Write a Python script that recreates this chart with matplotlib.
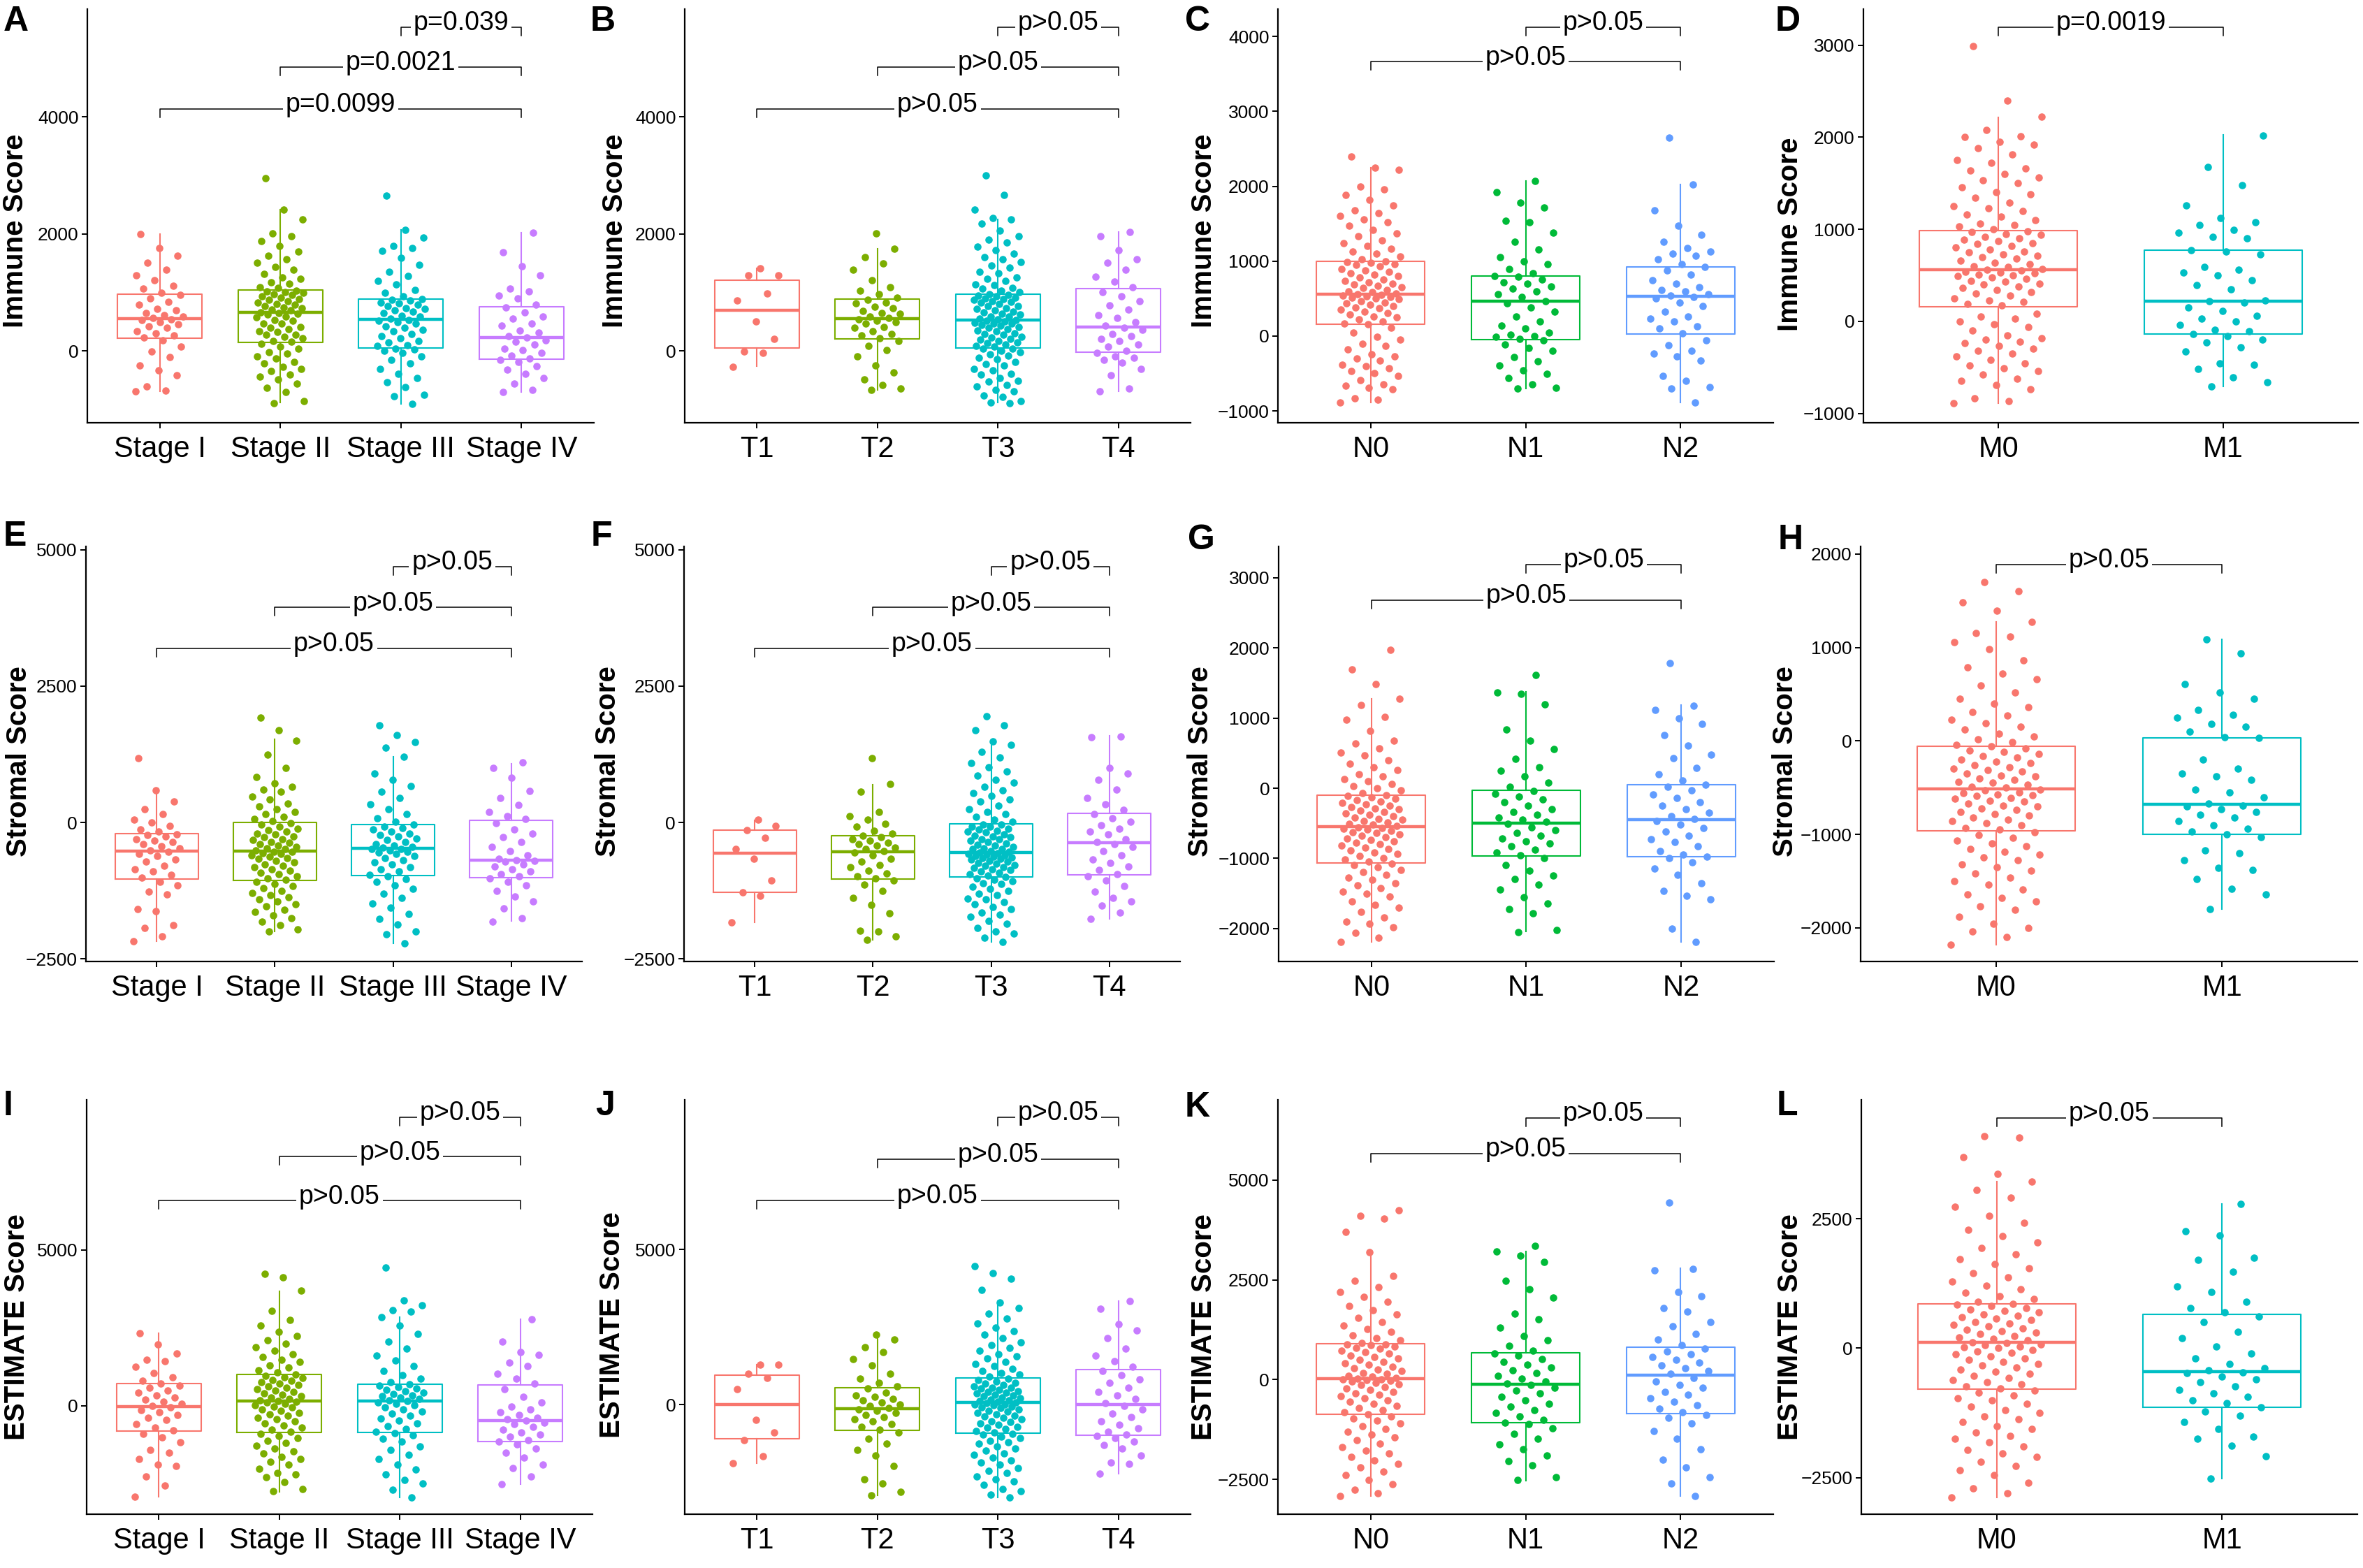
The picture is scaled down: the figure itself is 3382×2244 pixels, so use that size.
import matplotlib
matplotlib.use('Agg')
import matplotlib.pyplot as plt
import numpy as np

plt.rcParams['font.family'] = ['Liberation Sans', 'DejaVu Sans']

# ---------------- categories ----------------
stage_cats = ['Stage I', 'Stage II', 'Stage III', 'Stage IV']
t_cats = ['T1', 'T2', 'T3', 'T4']
n_cats = ['N0', 'N1', 'N2']
m_cats = ['M0', 'M1']

# ---------------- Immune score: points ----------------
imm_stage1 = [-690,-680,-610,-420,-330,-250,-110,-10,70,180,230,260,300,330,390,420,450,490,520,540,
              560,590,610,650,690,720,790,840,900,960,990,1060,1110,1210,1290,1390,1500,1620,1750,2000]
imm_stage2 = [-900,-860,-700,-630,-560,-490,-440,-410,-350,-310,-270,-220,-190,-130,-100,-50,-20,30,70,120,
              160,170,220,240,270,280,320,330,370,400,410,460,470,510,520,570,580,620,630,640,
              660,690,700,730,740,760,790,800,830,850,870,880,910,930,950,970,990,1000,1020,1030,
              1070,1090,1150,1170,1230,1260,1310,1390,1430,1510,1560,1630,1700,1790,1880,1960,2010,2250,2410,2950]
imm_stage3 = [-910,-780,-750,-620,-540,-470,-390,-310,-220,-160,-90,-40,0,20,40,
              80,100,140,170,220,250,290,330,360,400,420,470,490,510,530,
              550,590,600,640,670,690,720,730,770,790,810,830,860,870,880,
              930,990,1040,1130,1190,1280,1350,1470,1590,1710,1760,1790,1930,2070,2650]
imm_stage4 = [-710,-670,-560,-470,-390,-320,-260,-190,-160,-130,-80,-30,10,40,110,160,180,230,
              250,310,350,430,470,550,580,660,740,790,890,940,1010,1060,1290,1450,1680,2020]
imm_T1 = [-270,-40,-10,200,500,860,980,1290,1290,1410]
imm_T2 = [-670,-650,-590,-490,-370,-250,-90,10,80,170,210,260,290,340,390,410,470,490,510,540,
          560,580,630,650,680,730,750,810,830,870,910,970,1030,1090,1210,1380,1490,1600,1740,2010]
imm_T3 = [-900,-880,-860,-790,-770,-690,-670,-610,-590,-530,-510,-470,-410,-390,-330,-310,-250,-230,-190,-140,
          -120,-80,-60,-20,0,30,40,70,80,110,130,140,170,190,200,230,240,270,290,300,330,350,370,390,410,
          430,440,460,470,480,500,510,520,540,550,580,590,620,630,660,670,690,720,730,760,770,800,820,840,
          850,870,880,900,910,930,940,950,970,1000,1030,1060,1080,1120,1140,1200,1230,1260,1320,1350,1420,
          1460,1520,1570,1600,1660,1720,1780,1850,1900,1960,2050,2170,2240,2270,2410,2660,3000]
imm_T4 = [-690,-650,-420,-310,-200,-160,-120,-90,-40,0,70,110,170,200,250,290,360,400,
          430,490,560,610,700,780,850,930,1000,1090,1180,1270,1390,1500,1570,1720,1960,2030]
imm_N0 = [-890,-850,-830,-710,-690,-660,-640,-590,-530,-490,-470,-430,-400,-380,-330,-300,-270,-240,-180,-130,
          -100,-50,-10,50,110,160,170,200,220,250,260,290,310,330,350,370,380,400,420,440,450,470,490,500,
          510,520,530,540,550,560,570,590,600,620,640,650,670,690,700,720,740,760,780,800,820,840,860,880,
          900,930,950,960,980,990,1000,1030,1060,1100,1130,1170,1200,1240,1280,1330,1370,1420,1470,1520,
          1560,1600,1640,1680,1740,1820,1880,1960,2000,2220,2250,2400]
imm_N1 = [-700,-690,-640,-560,-500,-460,-390,-340,-280,-200,-160,-110,-60,-40,-10,0,20,50,100,140,200,260,
          330,380,440,470,520,560,600,630,660,700,720,760,790,800,840,900,960,1000,1050,1160,1260,1380,
          1520,1540,1720,1780,1920,2070]
imm_N2 = [-890,-700,-680,-600,-530,-330,-270,-230,-200,-120,-60,40,100,130,200,230,260,330,400,450,500,520,
          540,560,600,620,650,700,750,820,880,920,960,1030,1070,1100,1130,1180,1260,1350,1470,1680,2020,2650]
imm_M0 = [-890,-870,-840,-740,-690,-650,-620,-580,-540,-510,-480,-460,-420,-380,-350,-320,-300,-270,-240,-220,
          -200,-180,-150,-100,-60,-30,0,30,50,80,170,190,210,230,250,280,300,320,340,360,380,400,410,430,440,
          460,480,490,500,510,520,530,540,550,560,570,590,600,620,640,660,680,700,710,730,750,760,780,800,
          820,840,850,870,890,900,920,940,950,970,980,1000,1030,1050,1060,1100,1140,1160,1200,1230,1250,1290,
          1340,1380,1400,1460,1500,1530,1560,1600,1640,1660,1720,1750,1810,1880,1920,1950,2000,2010,2080,
          2220,2400,2990]
imm_M1 = [-710,-660,-610,-520,-470,-460,-330,-280,-230,-200,-160,-140,-110,-90,-40,0,30,60,110,150,200,
          220,230,350,390,450,500,530,560,590,730,760,770,900,920,960,990,1050,1080,1120,1260,1480,1680,2020]

# ---------------- Stromal score: points ----------------
str_stage1 = [-2180,-2080,-1930,-1880,-1620,-1580,-1320,-1260,-1150,-1080,-1010,-960,-900,-850,-790,-720,
              -680,-610,-570,-540,-510,-470,-430,-400,-360,-330,-300,-260,-230,-210,-170,-120,-60,0,50,150,
              250,380,590,1180]
str_stage2 = [-2000,-1960,-1880,-1820,-1750,-1700,-1640,-1600,-1540,-1500,-1450,-1410,-1370,-1330,-1290,-1250,
              -1200,-1160,-1120,-1080,-1050,-1020,-990,-950,-920,-880,-860,-820,-790,-760,-730,-700,-670,-650,
              -620,-600,-580,-560,-540,-530,-510,-490,-470,-440,-420,-400,-370,-350,-320,-300,-270,-250,-220,
              -200,-170,-140,-110,-80,-40,-10,30,70,110,160,200,250,300,350,420,480,560,600,650,720,830,1000,
              1240,1500,1690,1920]
str_stage3 = [-2210,-2050,-1990,-1870,-1760,-1680,-1560,-1480,-1380,-1300,-1220,-1150,-1090,-1030,-990,
              -960,-900,-860,-820,-770,-730,-690,-650,-610,-580,-550,-530,-510,-490,-480,
              -460,-440,-420,-390,-350,-320,-290,-260,-230,-200,-160,-130,-100,-70,-40,
              10,80,160,250,330,450,560,670,780,900,1210,1370,1480,1600,1780]
str_stage4 = [-1810,-1750,-1570,-1440,-1350,-1250,-1150,-1080,-1020,-990,-950,-900,-860,-800,-760,-720,-700,
              -690,-660,-600,-520,-440,-350,-270,-200,-120,-10,60,120,200,320,450,580,820,1000,1100]
str_T1 = [-1831,-1337,-1277,-1066,-663,-482,-283,-145,-60,48]
str_T2 = [-2150,-2080,-2000,-1980,-1660,-1510,-1380,-1250,-1140,-1060,-1020,-980,-930,-880,-820,-780,-720,
          -660,-600,-550,-520,-490,-460,-420,-400,-370,-330,-300,-270,-240,-200,-150,-80,-20,50,120,200,
          560,700,1180]
str_T3 = [-2190,-2110,-2040,-1990,-1930,-1850,-1800,-1730,-1690,-1650,-1580,-1550,-1490,-1460,-1410,-1390,
          -1330,-1300,-1250,-1220,-1180,-1130,-1110,-1070,-1050,-1020,-1000,-970,-940,-920,-900,-870,-860,
          -830,-820,-790,-780,-750,-740,-720,-700,-680,-670,-650,-640,-620,-610,-600,-590,-570,-560,-550,
          -540,-520,-490,-480,-470,-440,-420,-410,-380,-360,-330,-310,-300,-270,-250,-240,-210,-180,-170,
          -150,-120,-110,-80,-70,-40,-30,10,50,100,160,200,250,310,380,420,490,540,590,660,730,780,860,940,
          1010,1090,1190,1300,1420,1490,1690,1780,1950]
str_T4 = [-1760,-1650,-1520,-1440,-1380,-1270,-1160,-1060,-980,-940,-870,-800,-740,-680,-600,-520,-450,-390,
          -350,-300,-220,-170,-110,-50,20,80,150,230,330,450,600,780,900,1000,1560,1580]
str_N0 = [-2190,-2130,-2060,-1980,-1930,-1900,-1840,-1760,-1700,-1660,-1610,-1540,-1500,-1470,-1420,-1380,
          -1350,-1310,-1280,-1240,-1200,-1170,-1130,-1100,-1080,-1050,-1020,-1000,-970,-940,-920,-890,-870,
          -850,-820,-800,-780,-760,-740,-720,-700,-680,-660,-640,-630,-610,-590,-580,-570,-560,-540,-520,
          -510,-490,-470,-450,-440,-420,-400,-380,-360,-340,-320,-300,-290,-270,-250,-230,-210,-190,-170,
          -150,-130,-110,-100,-70,-30,0,30,60,100,130,170,200,260,300,350,400,470,510,570,640,680,820,980,
          1020,1190,1280,1480,1690,1970]
str_N1 = [-2050,-2020,-1780,-1720,-1640,-1550,-1440,-1370,-1300,-1250,-1180,-1100,-1000,-960,-920,-880,-830,
          -790,-760,-720,-680,-640,-600,-560,-510,-480,-450,-420,-380,-340,-300,-250,-200,-160,-120,-80,-40,
          20,80,170,250,300,420,560,680,840,1200,1350,1370,1610]
str_N2 = [-2190,-2000,-1580,-1530,-1460,-1350,-1240,-1150,-1060,-1000,-980,-950,-900,-830,-770,-730,-680,
          -620,-570,-520,-470,-440,-400,-350,-300,-250,-200,-140,-90,-30,20,50,110,200,290,430,480,610,760,
          920,1000,1120,1180,1780]
str_M0 = [-2180,-2100,-2040,-2000,-1960,-1880,-1810,-1770,-1720,-1680,-1640,-1590,-1540,-1500,-1460,-1420,
          -1390,-1350,-1320,-1280,-1250,-1220,-1190,-1160,-1130,-1100,-1070,-1040,-1010,-980,-950,-930,-900,
          -880,-860,-840,-820,-800,-780,-760,-740,-720,-700,-690,-670,-650,-640,-620,-610,-590,-580,-570,
          -560,-550,-530,-520,-500,-490,-470,-450,-440,-420,-400,-380,-370,-350,-330,-310,-300,-280,-260,
          -240,-220,-200,-180,-160,-140,-120,-100,-80,-60,-40,-10,20,50,80,120,150,190,230,270,310,360,400,
          450,520,590,660,720,790,860,980,1060,1120,1150,1270,1390,1480,1600,1700]
str_M1 = [-1800,-1640,-1580,-1480,-1380,-1360,-1280,-1200,-1170,-1030,-1000,-970,-940,-900,-860,-820,-790,
          -760,-730,-700,-690,-670,-600,-550,-520,-420,-380,-350,-300,-200,30,40,100,150,180,250,280,330,450,
          520,610,940,1090]

# ---------------- ESTIMATE score: points ----------------
est_stage1 = [-2920,-2560,-2270,-1940,-1880,-1720,-1500,-1420,-1180,-1020,-900,-780,-700,-580,-450,-380,-300,
              -210,-130,-60,-10,60,120,190,260,330,420,480,570,650,720,800,920,1040,1250,1430,1480,1680,1960,2320]
est_stage2 = [-2750,-2680,-2450,-2300,-2200,-2150,-2020,-1900,-1810,-1700,-1650,-1540,-1460,-1380,-1290,-1200,
              -1120,-1040,-960,-900,-830,-760,-700,-640,-560,-500,-440,-380,-330,-270,-220,-160,-110,-60,-20,20,
              60,100,130,150,170,220,260,300,350,400,440,490,530,570,620,660,700,750,790,830,880,920,960,1000,
              1060,1130,1220,1300,1400,1480,1570,1660,1760,1870,1980,2100,2230,2380,2570,2750,3050,3700,4110,4230]
est_stage3 = [-2950,-2700,-2500,-2380,-2200,-2050,-1880,-1720,-1580,-1420,-1300,-1160,-1050,-950,-880,-830,
              -740,-650,-560,-480,-400,-320,-250,-180,-120,-60,10,60,110,150,170,220,260,300,340,380,420,460,
              510,560,600,640,680,760,870,980,1120,1280,1450,1600,1840,2050,2300,2560,2840,3020,3070,3230,3380,4430]
est_stage4 = [-2520,-2280,-2000,-1900,-1660,-1500,-1380,-1250,-1160,-1100,-1000,-920,-850,-760,-680,-600,-540,
              -480,-440,-380,-300,-210,-120,-20,100,280,530,700,860,1020,1260,1380,1620,1710,2050,2770]
est_T1 = [-1872,-1650,-1130,-880,-476,506,860,1000,1295,1295]
est_T2 = [-2910,-2800,-2540,-2400,-1980,-1640,-1450,-1260,-1100,-900,-800,-700,-620,-540,-470,-400,-330,-260,
          -200,-140,-100,-40,20,80,140,200,250,310,400,520,600,700,850,1000,1260,1480,1700,1850,2100,2260]
est_T3 = [-2980,-2900,-2790,-2710,-2590,-2470,-2400,-2310,-2190,-2120,-2040,-1930,-1860,-1790,-1700,-1610,
          -1560,-1470,-1400,-1340,-1250,-1200,-1150,-1070,-1030,-960,-930,-880,-850,-780,-740,-710,-650,-590,
          -560,-520,-470,-410,-380,-350,-300,-250,-220,-190,-150,-100,-80,-60,-20,10,20,50,70,90,130,150,170,
          210,240,280,300,320,360,400,420,440,480,520,540,560,600,650,680,710,760,790,840,900,970,1020,1080,
          1160,1250,1320,1390,1490,1560,1640,1740,1840,1930,2020,2140,2260,2380,2490,2620,2780,2940,3110,3300,
          3690,4070,4230,4470]
est_T4 = [-2230,-1900,-1860,-1640,-1420,-1300,-1180,-1080,-1000,-950,-860,-760,-640,-520,-400,-280,-150,-40,
          60,180,300,420,560,700,830,960,1080,1220,1400,1580,1800,2150,2400,2600,3100,3340]
est_N0 = [-2920,-2850,-2760,-2620,-2520,-2400,-2300,-2200,-2110,-2020,-1930,-1850,-1770,-1690,-1600,-1520,
          -1450,-1380,-1300,-1230,-1160,-1100,-1030,-970,-920,-860,-810,-760,-710,-660,-610,-560,-520,-470,
          -420,-380,-340,-300,-260,-220,-180,-140,-110,-80,-50,-30,-10,0,10,20,40,70,100,140,170,210,250,290,
          330,370,410,450,490,530,570,610,650,690,730,770,800,830,860,880,890,920,980,1040,1110,1190,1270,
          1360,1450,1540,1640,1740,1850,1960,2080,2200,2320,2480,2600,3190,3710,4040,4100,4240]
est_N1 = [-2520,-2450,-2150,-2040,-1900,-1750,-1620,-1480,-1360,-1220,-1120,-1080,-1000,-920,-840,-760,-680,
          -600,-520,-430,-350,-270,-200,-130,-100,-40,20,90,160,230,300,380,450,520,600,660,720,840,980,1100,
          1300,1520,1650,2050,2260,2480,2950,3110,3220,3350]
est_N2 = [-2920,-2610,-2450,-2200,-2000,-1740,-1480,-1280,-1100,-960,-880,-820,-730,-640,-560,-470,-380,-300,
          -210,-130,-40,50,140,220,290,360,430,500,570,640,700,770,860,1000,1150,1330,1450,1700,1800,2090,
          2200,2740,2780,4430]
est_M0 = [-2880,-2800,-2700,-2600,-2450,-2350,-2270,-2190,-2100,-2030,-1960,-1890,-1820,-1750,-1690,-1620,
          -1560,-1500,-1430,-1370,-1310,-1250,-1190,-1130,-1070,-1010,-960,-910,-860,-820,-770,-730,-690,
          -650,-610,-570,-530,-490,-450,-410,-370,-330,-300,-260,-220,-190,-160,-120,-90,-60,-30,0,20,40,60,
          80,100,120,150,180,210,240,270,300,330,360,390,420,450,480,510,540,570,600,630,660,690,720,750,780,
          810,840,860,900,950,1010,1070,1140,1210,1290,1370,1450,1540,1630,1720,1820,1930,2040,2160,2290,
          2420,2560,2730,2900,3060,3220,3370,3690,4070,4100]
est_M1 = [-2520,-2080,-1880,-1750,-1700,-1560,-1420,-1300,-1220,-1140,-1060,-1000,-940,-870,-800,-730,-660,
          -600,-540,-480,-460,-430,-380,-300,-200,-100,40,200,320,500,620,700,780,900,1080,1200,1480,1700,
          1740,2180,2260,2790]

# ---------------- box statistics [whisker low, Q1, median, Q3, whisker high] ----------------
imm_stage_box = [[-693, 213, 549, 971, 2000], [-880, 149, 651, 1035, 2410],
                 [-907, 53, 533, 880, 2069], [-709, -149, 224, 757, 2016]]
imm_T_box = [[-267, 48, 688, 1205, 1413], [-667, 203, 549, 880, 1749],
             [-880, 48, 523, 971, 2240], [-693, -27, 411, 1067, 2027]]
imm_N_box = [[-887, 154, 562, 1000, 2250], [-700, -50, 462, 804, 2071], [-887, 29, 529, 925, 2021]]
imm_M_box = [[-892, 159, 559, 983, 2214], [-705, -139, 220, 770, 2024]]

str_stage_box = [[-2181, -1036, -524, -199, 590], [-2000, -1066, -524, 0, 1524],
                 [-2211, -976, -476, -30, 1211], [-1807, -1006, -687, 36, 1084]]
str_T_box = [[-1831, -1277, -566, -145, 36], [-2151, -1036, -536, -235, 699],
             [-2193, -994, -554, -24, 1420], [-1759, -958, -367, 163, 1584]]
str_N_box = [[-2189, -1066, -552, -99, 1278], [-2047, -967, -495, -33, 1373], [-2189, -976, -448, 52, 1184]]
str_M_box = [[-2180, -961, -512, -60, 1272], [-1802, -997, -682, 35, 1088]]

est_stage_box = [[-2923, -806, -30, 706, 2318], [-2752, -857, 151, 1008, 3679],
                 [-2953, -857, 151, 685, 2843], [-2520, -1139, -474, 655, 2772]]
est_T_box = [[-1872, -1083, 0, 961, 1295], [-2915, -830, -121, 557, 2257],
             [-2985, -911, 71, 860, 3340], [-2226, -982, 20, 1144, 3340]]
est_N_box = [[-2918, -875, 24, 899, 3194], [-2524, -1080, -118, 678, 3217], [-2918, -852, 118, 812, 2784]]
est_M_box = [[-2882, -789, 109, 862, 3216], [-2518, -1135, -455, 655, 2791]]

# ---------------- p-value labels ----------------
p_A = ['p=0.0099', 'p=0.0021', 'p=0.039']
p_D = ['p=0.0019']
p_ns = 'p>0.05'

# ---------------- figure ----------------
W, H = 3382, 2244
fig = plt.figure(figsize=(W / 100, H / 100), dpi=100)

C4 = ['#F8766D', '#7CAE00', '#00BFC4', '#C77CFF']
C3 = ['#F8766D', '#00BA38', '#619CFF']
C2 = ['#F8766D', '#00BFC4']


def rect(x0, x1, top, bottom):
    return [x0 / W, 1 - bottom / H, (x1 - x0) / W, (bottom - top) / H]


def panel(letter, r, letter_xy, ylab, ylab_xy, cats, groups, boxes, colors,
          ylim, yticks, brackets):
    ax = fig.add_axes(rect(*r))
    n = len(cats)
    pos = np.arange(1, n + 1)
    stats = [dict(whislo=b[0], q1=b[1], med=b[2], q3=b[3], whishi=b[4], fliers=[]) for b in boxes]
    bp = ax.bxp(stats, positions=pos, widths=0.7, showcaps=False, showfliers=False,
                patch_artist=False, manage_ticks=False)
    for i in range(n):
        c = colors[i]
        bp['boxes'][i].set(color=c, linewidth=1.5)
        bp['whiskers'][2 * i].set(color=c, linewidth=1.5)
        bp['whiskers'][2 * i + 1].set(color=c, linewidth=1.5)
        bp['medians'][i].set(color=c, linewidth=3.2)
    for i, vals in enumerate(groups):
        k = np.arange(len(vals))
        jit = (((k * 0.6180339887 + 0.37 * i) % 1.0) - 0.5) * 0.4
        ax.scatter(pos[i] + jit, vals, s=58, color=colors[i], linewidths=0, zorder=3)
    ax.set_xlim(0.4, n + 0.6)
    ax.set_ylim(*ylim)
    ax.set_xticks(pos)
    ax.set_xticklabels(cats)
    ax.set_yticks(yticks)
    ax.set_yticklabels([('\u2212' if v < 0 else '') + str(abs(v)) for v in yticks])
    for s in ['top', 'right']:
        ax.spines[s].set_visible(False)
    for s in ['left', 'bottom']:
        ax.spines[s].set_linewidth(1.6)
        ax.spines[s].set_color('black')
    ax.tick_params(axis='both', direction='out', length=6, width=1.4, colors='black')
    ax.tick_params(axis='y', labelsize=19, pad=3)
    ax.tick_params(axis='x', labelsize=30, pad=7)
    # significance brackets
    hpx = (r[3] - r[2])
    tip = 12 * (ylim[1] - ylim[0]) / hpx
    for (x1, x2, yv, lab) in brackets:
        ax.plot([x1, x1, x2, x2], [yv - tip, yv, yv, yv - tip], color='black', lw=1.1,
                zorder=4, clip_on=False)
        ax.annotate(lab, xy=((x1 + x2) / 2, yv), xytext=(0, -3), textcoords='offset points',
                    ha='center', va='baseline', fontsize=27, zorder=5,
                    bbox=dict(boxstyle='square,pad=0.1', fc='white', ec='none'))
    fig.text(letter_xy[0] / W, 1 - letter_xy[1] / H, letter, ha='left', va='top',
             fontsize=36, fontweight='bold')
    fig.text(ylab_xy[0] / W, 1 - ylab_xy[1] / H, ylab, rotation=90, ha='center', va='center',
             fontsize=29, fontweight='bold')
    return ax


# Row 1: Immune
panel('A', (125, 850, 13, 605), (5, 8), 'Immune Score', (22, 330), stage_cats,
      [imm_stage1, imm_stage2, imm_stage3, imm_stage4], imm_stage_box, C4,
      (-1230, 5840), [0, 2000, 4000],
      [(1, 4, 4134, p_A[0]), (2, 4, 4850, p_A[1]), (3, 4, 5528, p_A[2])])
panel('B', (980, 1704, 13, 605), (845, 8), 'Immune Score', (880, 330), t_cats,
      [imm_T1, imm_T2, imm_T3, imm_T4], imm_T_box, C4,
      (-1230, 5840), [0, 2000, 4000],
      [(1, 4, 4134, p_ns), (2, 4, 4850, p_ns), (3, 4, 5528, p_ns)])
panel('C', (1829, 2538, 13, 605), (1696, 8), 'Immune Score', (1723, 330), n_cats,
      [imm_N0, imm_N1, imm_N2], imm_N_box, C3,
      (-1157, 4366), [-1000, 0, 1000, 2000, 3000, 4000],
      [(1, 3, 3662, p_ns), (2, 3, 4125, p_ns)])
panel('D', (2667, 3375, 13, 605), (2541, 8), 'Immune Score', (2562, 335), m_cats,
      [imm_M0, imm_M1], imm_M_box, C2,
      (-1102, 3392), [-1000, 0, 1000, 2000, 3000],
      [(1, 2, 3193, p_D[0])])

# Row 2: Stromal
panel('E', (123, 833, 782, 1376), (5, 745), 'Stromal Score', (27, 1090), stage_cats,
      [str_stage1, str_stage2, str_stage3, str_stage4], str_stage_box, C4,
      (-2546, 5060), [-2500, 0, 2500, 5000],
      [(1, 4, 3187, p_ns), (2, 4, 3941, p_ns), (3, 4, 4694, p_ns)])
panel('F', (979, 1689, 782, 1376), (846, 745), 'Stromal Score', (870, 1090), t_cats,
      [str_T1, str_T2, str_T3, str_T4], str_T_box, C4,
      (-2546, 5060), [-2500, 0, 2500, 5000],
      [(1, 4, 3187, p_ns), (2, 4, 3941, p_ns), (3, 4, 4694, p_ns)])
panel('G', (1830, 2539, 782, 1376), (1700, 750), 'Stromal Score', (1718, 1090), n_cats,
      [str_N0, str_N1, str_N2], str_N_box, C3,
      (-2471, 3448), [-2000, -1000, 0, 1000, 2000, 3000],
      [(1, 3, 2680, p_ns), (2, 3, 3188, p_ns)])
panel('H', (2663, 3374, 782, 1376), (2545, 750), 'Stromal Score', (2555, 1090), m_cats,
      [str_M0, str_M1], str_M_box, C2,
      (-2361, 2081), [-2000, -1000, 0, 1000, 2000],
      [(1, 2, 1886, p_ns)])

# Row 3: ESTIMATE
panel('I', (124, 848, 1574, 2167), (5, 1560), 'ESTIMATE Score', (24, 1899), stage_cats,
      [est_stage1, est_stage2, est_stage3, est_stage4], est_stage_box, C4,
      (-3480, 9809), [0, 5000],
      [(1, 4, 6572, p_ns), (2, 4, 7984, p_ns), (3, 4, 9244, p_ns)])
panel('J', (980, 1704, 1574, 2167), (852, 1560), 'ESTIMATE Score', (876, 1896), t_cats,
      [est_T1, est_T2, est_T3, est_T4], est_T_box, C4,
      (-3524, 9820), [0, 5000],
      [(1, 4, 6580, p_ns), (2, 4, 7917, p_ns), (3, 4, 9263, p_ns)])
panel('K', (1829, 2538, 1574, 2167), (1696, 1562), 'ESTIMATE Score', (1723, 1899), n_cats,
      [est_N0, est_N1, est_N2], est_N_box, C3,
      (-3372, 7012), [-2500, 0, 2500, 5000],
      [(1, 3, 5672, p_ns), (2, 3, 6554, p_ns)])
panel('L', (2664, 3374, 1574, 2167), (2543, 1560), 'ESTIMATE Score', (2562, 1899), m_cats,
      [est_M0, est_M1], est_M_box, C2,
      (-3204, 4795), [-2500, 0, 2500],
      [(1, 2, 4442, p_ns)])

fig.savefig('out.png', dpi=100, facecolor='white')
